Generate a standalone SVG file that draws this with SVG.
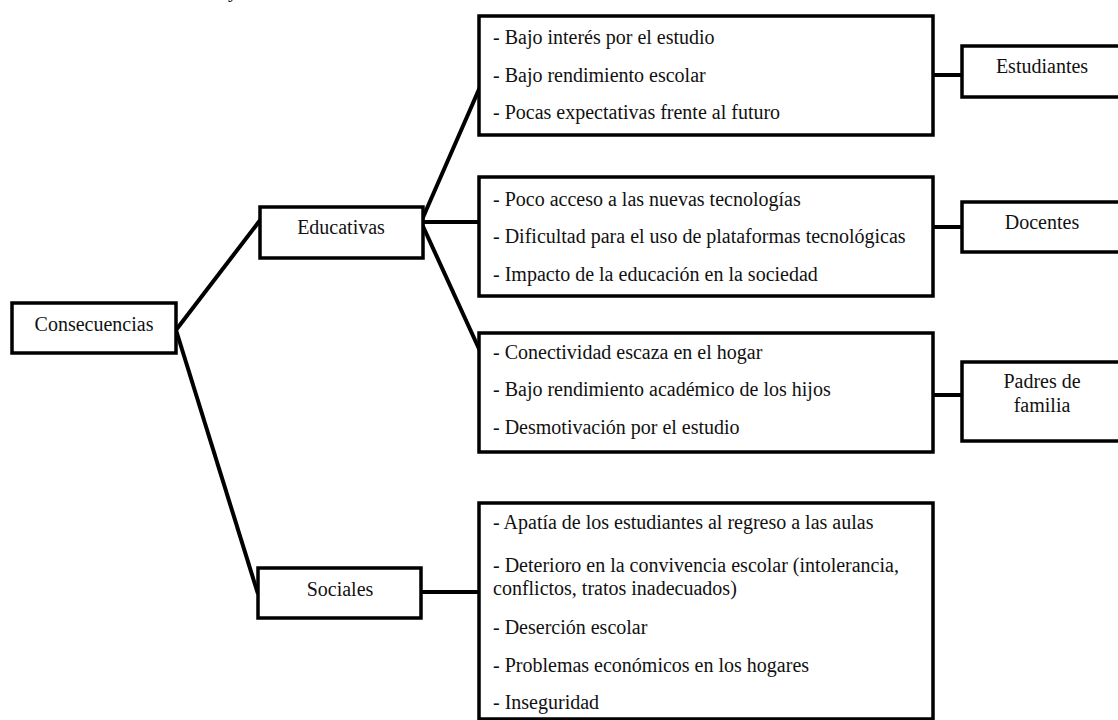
<svg xmlns="http://www.w3.org/2000/svg" width="1118" height="720" viewBox="0 0 1118 720">
<style>
.box{fill:#fff;stroke:#000;stroke-width:3.5}
.ln{stroke:#000;stroke-width:4;fill:none;stroke-linecap:butt}
text{font-family:"Liberation Serif","Times New Roman",serif;font-size:20px;fill:#111}
.c{text-anchor:middle}
</style>
<rect width="1118" height="720" fill="#fff"/>
<text x="228" y="-3">y</text>
<g id="connectors">
<line class="ln" x1="176" y1="330" x2="261" y2="219"/>
<line class="ln" x1="176" y1="330" x2="258" y2="594"/>
<line class="ln" x1="421" y1="222" x2="480" y2="87"/>
<line class="ln" x1="421" y1="222" x2="480" y2="222"/>
<line class="ln" x1="421" y1="222" x2="480" y2="351"/>
<line class="ln" x1="421" y1="592" x2="480" y2="592"/>
<line class="ln" x1="933" y1="75" x2="962" y2="75"/>
<line class="ln" x1="933" y1="227" x2="962" y2="227"/>
<line class="ln" x1="933" y1="395" x2="962" y2="395"/>
</g>
<g id="consecuencias">
<rect class="box" x="12" y="303" width="164" height="50"/>
<text class="c" x="94" y="331">Consecuencias</text>
</g>
<g id="educativas">
<rect class="box" x="260" y="207" width="163" height="51"/>
<text class="c" x="341" y="234">Educativas</text>
</g>
<g id="sociales">
<rect class="box" x="258" y="568" width="163" height="50"/>
<text class="c" x="340" y="596">Sociales</text>
</g>
<g id="box-estudiantes-items">
<rect class="box" x="479" y="16" width="454" height="119"/>
<text x="493" y="44">- Bajo interés por el estudio</text>
<text x="493" y="82">- Bajo rendimiento escolar</text>
<text x="493" y="119">- Pocas expectativas frente al futuro</text>
</g>
<g id="box-docentes-items">
<rect class="box" x="479" y="177" width="454" height="119"/>
<text x="493" y="206">- Poco acceso a las nuevas tecnologías</text>
<text x="493" y="243">- Dificultad para el uso de plataformas tecnológicas</text>
<text x="493" y="281">- Impacto de la educación en la sociedad</text>
</g>
<g id="box-padres-items">
<rect class="box" x="479" y="333" width="454" height="119"/>
<text x="493" y="359">- Conectividad escaza en el hogar</text>
<text x="493" y="396">- Bajo rendimiento académico de los hijos</text>
<text x="493" y="434">- Desmotivación por el estudio</text>
</g>
<g id="box-sociales-items">
<rect class="box" x="479" y="503" width="454" height="216"/>
<text x="493" y="529">- Apatía de los estudiantes al regreso a las aulas</text>
<text x="493" y="572">- Deterioro en la convivencia escolar (intolerancia,</text>
<text x="493" y="595">conflictos, tratos inadecuados)</text>
<text x="493" y="634">- Deserción escolar</text>
<text x="493" y="672">- Problemas económicos en los hogares</text>
<text x="493" y="709">- Inseguridad</text>
</g>
<g id="estudiantes">
<rect class="box" x="962" y="46" width="170" height="51"/>
<text class="c" x="1042" y="73">Estudiantes</text>
</g>
<g id="docentes">
<rect class="box" x="962" y="202" width="170" height="50"/>
<text class="c" x="1042" y="229">Docentes</text>
</g>
<g id="padres">
<rect class="box" x="962" y="362" width="170" height="79"/>
<text class="c" x="1042" y="388">Padres de</text>
<text class="c" x="1042" y="412">familia</text>
</g>
</svg>
